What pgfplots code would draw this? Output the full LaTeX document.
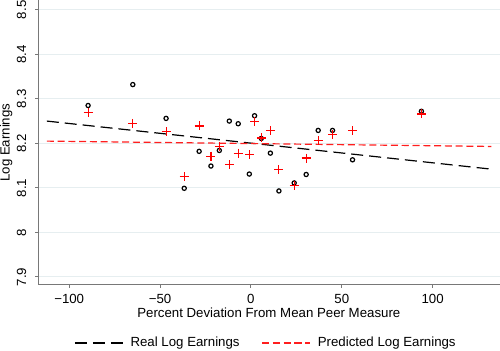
\documentclass[border=0pt]{standalone}
\usepackage{fontspec}
\setmainfont{Liberation Sans}
\usepackage{pgfplots}
\pgfplotsset{compat=1.18}
\definecolor{axgray}{RGB}{120,120,120}
\definecolor{gridc}{RGB}{230,238,240}
\definecolor{predred}{RGB}{255,30,30}
\begin{document}
\fontsize{13.25bp}{15bp}\selectfont
\begin{tikzpicture}
\begin{axis}[
  scale only axis,
  width=461.2bp, height=284.3bp,
  xmin=-117.1, xmax=136.8,
  ymin=7.882, ymax=8.521,
  axis x line*=bottom, axis y line*=left,
  axis line style={axgray, line width=0.9bp},
  every tick/.style={axgray, line width=0.9bp},
  tick align=outside, major tick length=3bp,
  xtick={-100,-50,0,50,100},
  xticklabels={−100,−50,0,50,100},
  ytick={7.9,8,8.1,8.2,8.3,8.4,8.5},
  yticklabels={7.9,8,8.1,8.2,8.3,8.4,8.5},
  ymajorgrids, grid style={gridc, line width=0.9bp},
  xticklabel style={anchor=base, inner sep=0pt, yshift=-16bp, font=\fontsize{13.25bp}{15bp}\selectfont},
  yticklabel style={xshift=-8.6bp, rotate=90, anchor=south, inner sep=0pt, font=\fontsize{13.25bp}{15bp}\selectfont},
  xlabel={Percent Deviation From Mean Peer Measure},
  ylabel={Log Earnings},
  every axis x label/.style={at={(rel axis cs:0.5,0)}, anchor=base, yshift=-32.7bp, inner sep=0pt, font=\fontsize{13.25bp}{15bp}\selectfont},
  every axis y label/.style={at={(rel axis cs:0,0.5)}, xshift=-38.3bp, rotate=90, anchor=north, inner sep=0pt, font=\fontsize{13.25bp}{15bp}\selectfont},
  legend columns=2,
  legend style={at={(rel axis cs:0,0)}, anchor=west, xshift=36bp, yshift=-58bp, draw=none, fill=none, inner sep=0pt,
    font=\fontsize{13.25bp}{15bp}\selectfont,
    /tikz/every odd column/.append style={column sep=5bp},
    /tikz/every even column/.append style={column sep=20bp}},
  legend image code/.code={\draw[#1] (0bp,0bp) -- (48bp,0bp);},
  clip=false,
]
\addplot[black, line width=1.2bp, dash pattern=on 12bp off 6bp] coordinates {(-112.3,8.250) (132.3,8.142)};
\addlegendentry{Real Log Earnings}
\addplot[predred, line width=1.2bp, dash pattern=on 7bp off 3.75bp] coordinates {(-112.3,8.205) (132.3,8.193)};
\addlegendentry{Predicted Log Earnings}
\addplot[only marks, mark=o, mark size=2.1bp, black, line width=1.2bp, forget plot] coordinates {
(-89.6,8.285) (-65.0,8.332) (-46.7,8.256) (-36.7,8.099) (-28.5,8.182)
(-22.0,8.149) (-17.4,8.184) (-11.9,8.250) (-7.0,8.244) (-0.9,8.131)
(2.0,8.262) (5.7,8.211) (10.7,8.178) (15.4,8.093) (23.8,8.111)
(30.4,8.130) (37.0,8.229) (44.9,8.229) (55.9,8.163) (93.8,8.272)};
\addplot[only marks, mark=+, mark size=4.5bp, red, line width=1.1bp, forget plot] coordinates {
(-89.6,8.270) (-65.0,8.245) (-46.7,8.226) (-36.7,8.125) (-28.5,8.239)
(-22.0,8.171) (-17.4,8.193) (-11.9,8.152) (-7.0,8.178) (-0.9,8.174)
(2.0,8.250) (5.7,8.212) (10.7,8.228) (15.4,8.141) (23.8,8.106)
(30.4,8.167) (37.0,8.206) (44.9,8.219) (55.9,8.228) (93.8,8.266)};
\end{axis}
\end{tikzpicture}
\end{document}
